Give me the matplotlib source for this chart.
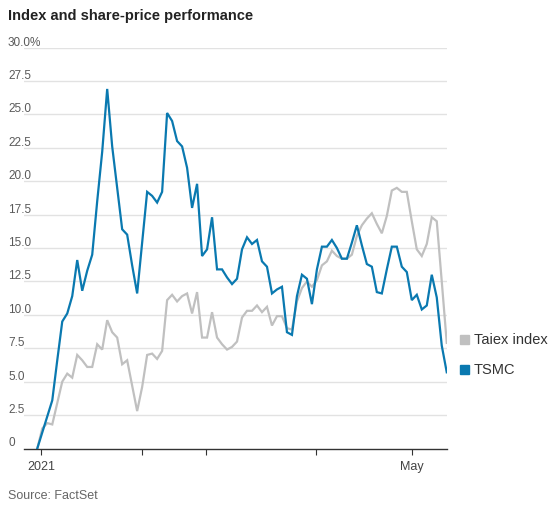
import matplotlib
matplotlib.use("Agg")
import matplotlib.pyplot as plt

### Daten (Wertentwicklung in %, je Handelstag)
tsmc = [0.0, 1.2, 2.4, 3.6, 6.6, 9.5, 10.1, 11.4, 14.1, 11.8,
        13.3, 14.5, 18.5, 22.2, 26.9, 22.6, 19.5, 16.4, 16.0, 13.7,
        11.6, 15.4, 19.2, 18.9, 18.4, 19.2, 25.1, 24.5, 23.0, 22.6,
        21.0, 18.0, 19.8, 14.4, 14.9, 17.3, 13.4, 13.4, 12.8, 12.3,
        12.7, 14.9, 15.8, 15.3, 15.6, 14.0, 13.6, 11.6, 11.9, 12.1,
        8.7, 8.5, 11.4, 13.0, 12.7, 10.8, 13.4, 15.1, 15.1, 15.6,
        15.0, 14.2, 14.2, 15.4, 16.7, 15.2, 13.8, 13.6, 11.7, 11.6,
        13.4, 15.1, 15.1, 13.6, 13.2, 11.1, 11.5, 10.4, 10.7, 13.0,
        11.3, 7.7, 5.7]
taiex = [0.0, 1.5, 1.9, 1.8, 3.4, 5.0, 5.6, 5.3, 7.0, 6.6,
         6.1, 6.1, 7.8, 7.4, 9.6, 8.7, 8.3, 6.3, 6.6, 4.7,
         2.8, 4.6, 7.0, 7.1, 6.7, 7.3, 11.1, 11.5, 11.0, 11.4,
         11.6, 10.1, 11.7, 8.3, 8.3, 10.2, 8.3, 7.8, 7.4, 7.6,
         8.0, 9.8, 10.3, 10.3, 10.7, 10.2, 10.6, 9.2, 9.9, 9.9,
         9.0, 8.9, 11.0, 12.0, 12.5, 12.1, 12.6, 13.7, 14.0, 14.8,
         14.4, 14.2, 14.2, 14.5, 15.9, 16.7, 17.2, 17.6, 16.8, 16.1,
         17.4, 19.3, 19.5, 19.2, 19.2, 17.0, 14.9, 14.4, 15.3, 17.3,
         17.0, 12.5, 7.9]
yticks = [0, 2.5, 5.0, 7.5, 10.0, 12.5, 15.0, 17.5, 20.0, 22.5, 25.0, 27.5, 30.0]
ytick_labels = ["0", "2.5", "5.0", "7.5", "10.0", "12.5", "15.0", "17.5",
                "20.0", "22.5", "25.0", "27.5", "30.0%"]
xtick_pos = [0.75, 20.9, 33.8, 55.9, 75.0]
xtick_labels = ["2021", "", "", "", "May"]

blau = "#0a79b0"
grau = "#c0c0c0"
plt.rcParams["font.family"] = ["Liberation Sans Narrow", "Liberation Sans", "DejaVu Sans"]

x_vec = list(range(len(tsmc)))

fig = plt.figure(figsize=(5.53, 5.06), dpi=100)
ax = fig.add_axes([24/553, 1 - 449.5/506, 423/553, 401/506])

for y in yticks[1:]:
    ax.axhline(y, color="#e2e2e2", lw=1, zorder=0)
ax.plot(x_vec, taiex, color=grau, lw=1.6, zorder=2, solid_joinstyle="miter")
ax.plot(x_vec, tsmc, color=blau, lw=1.6, zorder=3, solid_joinstyle="miter")

ax.set_xlim(-2.66, 82.05)
ax.set_ylim(0, 30)
for s in ["top", "right", "left"]:
    ax.spines[s].set_visible(False)
ax.spines["bottom"].set_color("#333333")
ax.spines["bottom"].set_linewidth(1)
ax.set_yticks([])
ax.set_xticks(xtick_pos)
ax.set_xticklabels(xtick_labels, fontsize=9, color="#444444")
ax.tick_params(axis="x", length=4, width=0.8, color="#333333", pad=4)

# y-Beschriftung im Plot ueber den Gitterlinien
for y, lab in zip(yticks, ytick_labels):
    ax.text(-16/423, y, lab, transform=ax.get_yaxis_transform(),
            ha="left", va="bottom", fontsize=8.5, color="#5a5a5a")

fig.text(8/553, 1 - 16/506, "Index and share-price performance",
         fontsize=10.5, fontweight="bold", color="#222222", va="center", ha="left")
fig.text(8/553, 1 - 496/506, "Source: FactSet", fontsize=9,
         color="#666666", va="center", ha="left")

# Legende
for yy, lab, c in [(340, "Taiex index", grau), (370, "TSMC", blau)]:
    fig.patches.append(plt.Rectangle((460/553, 1 - (yy + 5)/506), 9/553, 9/506,
                                     transform=fig.transFigure, color=c))
    fig.text(474/553, 1 - yy/506, lab, fontsize=10.5, color="#333333",
             va="center", ha="left")

fig.savefig("out.png", dpi=100)
